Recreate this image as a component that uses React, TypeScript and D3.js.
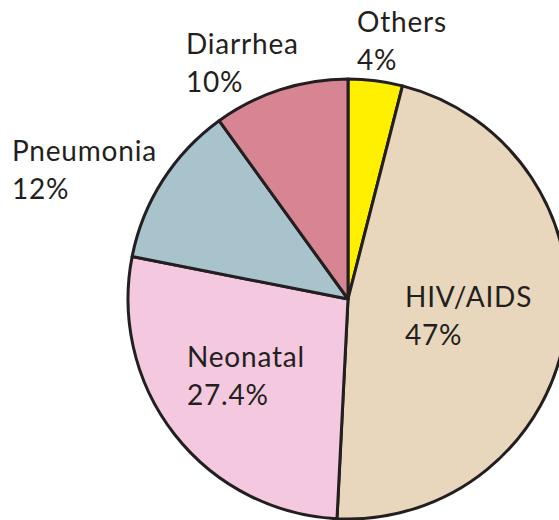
import React from "react";
import * as d3 from "d3";

const categories = ["Others", "HIV/AIDS", "Neonatal", "Pneumonia", "Diarrhea"];
const values = [4, 47, 27.4, 12, 10];
const labels = ["4%", "47%", "27.4%", "12%", "10%"];
const colors = ["#fff000", "#e8d7bc", "#f4c8de", "#a8c3cc", "#d78592"];
const labelPos: [number, number][] = [
  [357, 32],
  [405, 307],
  [187, 367],
  [12, 161],
  [186, 54],
];

const W = 559;
const H = 520;
const cx = 348;
const cy = 299;
const R = 220;

export default function App() {
  const data = categories.map((c, i) => ({ c, v: values[i], i }));
  const pie = d3.pie<any>().value((d) => d.v).sort(null);
  const arcs = pie(data);
  const arc = d3.arc<any>().innerRadius(0).outerRadius(R);
  return (
    <svg
      width={W}
      height={H}
      style={{ position: "absolute", left: 0, top: 0, background: "#fff" }}
    >
      <g transform={`translate(${cx},${cy})`}>
        {arcs.map((a, i) => (
          <path
            key={i}
            d={arc(a) as string}
            fill={colors[i]}
            stroke="#231f20"
            strokeWidth={3}
            strokeLinejoin="round"
          />
        ))}
      </g>
      {categories.map((c, i) => (
        <text
          key={c}
          x={labelPos[i][0]}
          y={labelPos[i][1]}
          fontFamily="Lato, 'Open Sans', sans-serif"
          fontSize={28}
          letterSpacing={0.8}
          fill="#231f20"
        >
          <tspan x={labelPos[i][0]}>{c}</tspan>
          <tspan x={labelPos[i][0]} dy={38}>{labels[i]}</tspan>
        </text>
      ))}
    </svg>
  );
}
